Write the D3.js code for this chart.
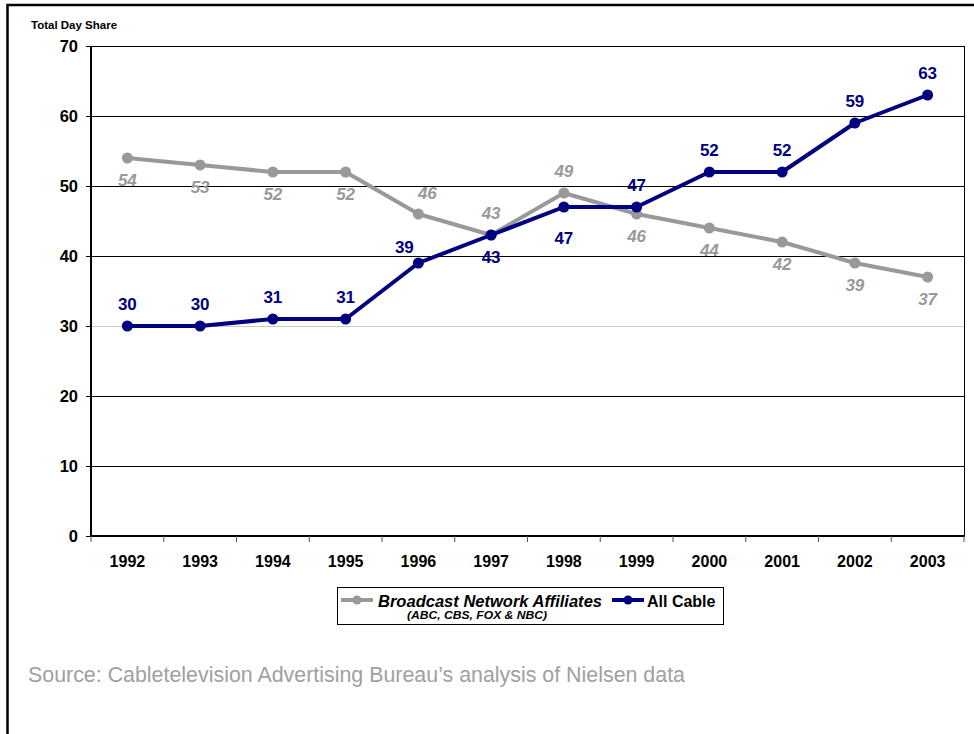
<!DOCTYPE html>
<html>
<head>
<meta charset="utf-8">
<script src="https://cdn.jsdelivr.net/npm/d3@7"></script>
<style>
  body { margin: 0; background: #fff; }
  svg { display: block; font-family: Arial, "Liberation Sans", sans-serif; }
</style>
</head>
<body>
<svg id="chart" width="974" height="734"></svg>
<script>
// data
var years = ["1992", "1993", "1994", "1995", "1996", "1997", "1998", "1999", "2000", "2001", "2002", "2003"];
var broadcast = [54, 53, 52, 52, 46, 43, 49, 46, 44, 42, 39, 37];
var cable = [30, 30, 31, 31, 39, 43, 47, 47, 52, 52, 59, 63];
var yTicks = [0, 10, 20, 30, 40, 50, 60, 70];
// where each data label sits relative to its point
var broadcastLabelPos = ["below", "below", "below", "below", "aboveRight", "above", "above", "below", "below", "below", "below", "below"];
var cableLabelPos = ["above", "above", "above", "above", "aboveLeft", "below", "belowFar", "above", "above", "above", "above", "above"];

var gray = "#999999", navy = "#000080";

var svg = d3.select("#chart"),
    plot = { left: 91, right: 964, top: 46, bottom: 536 };

var x = d3.scaleBand().domain(years).range([plot.left, plot.right]);
var y = d3.scaleLinear().domain([0, 70]).range([plot.bottom, plot.top]);

// outer frame (only left and top are visible)
svg.append("path")
    .attr("d", "M7.5,734 V5 H974")
    .attr("fill", "none")
    .attr("stroke", "#000")
    .attr("stroke-width", 2.5);

// y axis caption
svg.append("text")
    .attr("x", 31).attr("y", 29)
    .attr("font-size", 11.5).attr("font-weight", "bold")
    .text("Total Day Share");

// gridlines
svg.append("g").selectAll("line")
    .data(yTicks.filter(function (d) { return d > 0; }))
    .enter().append("line")
    .attr("x1", plot.left).attr("x2", plot.right)
    .attr("y1", function (d) { return y(d) + 0.5; })
    .attr("y2", function (d) { return y(d) + 0.5; })
    .attr("stroke", function (d) { return d == 30 ? "#c8c8c8" : "#000"; })
    .attr("stroke-width", 1);

// right edge of plot
svg.append("line")
    .attr("x1", plot.right + 0.5).attr("x2", plot.right + 0.5)
    .attr("y1", plot.top).attr("y2", plot.bottom)
    .attr("stroke", "#000");

// y axis
var axisY = svg.append("g")
    .attr("transform", "translate(" + plot.left + ",0)")
    .call(d3.axisLeft(y).tickValues(yTicks).tickSize(5).tickPadding(8));
axisY.select(".domain").attr("stroke-width", 2).attr("d", "M0," + plot.top + "V" + plot.bottom);
axisY.selectAll(".tick text")
    .attr("font-size", 16.5).attr("font-weight", "bold")
    .attr("font-family", "Arial, 'Liberation Sans', sans-serif").attr("fill", "#000");

// x axis: ticks on the band edges
var axisX = svg.append("g")
    .attr("transform", "translate(0," + plot.bottom + ")");
axisX.append("line")
    .attr("x1", plot.left - 1).attr("x2", plot.right + 1)
    .attr("stroke", "#000").attr("stroke-width", 2);
axisX.selectAll(".edge")
    .data(years.concat(["end"]))
    .enter().append("line")
    .attr("class", "edge")
    .attr("x1", function (d, i) { return plot.left + i * x.step(); })
    .attr("x2", function (d, i) { return plot.left + i * x.step(); })
    .attr("y1", 0).attr("y2", 6)
    .attr("stroke", "#555");
axisX.selectAll("text")
    .data(years)
    .enter().append("text")
    .attr("x", function (d) { return x(d) + x.bandwidth() / 2; })
    .attr("y", 31)
    .attr("text-anchor", "middle")
    .attr("font-size", 16).attr("font-weight", "bold")
    .text(function (d) { return d; });

function cx(i) { return x(years[i]) + x.bandwidth() / 2; }

var line = d3.line()
    .x(function (d, i) { return cx(i); })
    .y(function (d) { return y(d); });

var offsets = {
    above: [0, -16], below: [0, 28], belowFar: [0, 37],
    aboveRight: [9, -15], aboveLeft: [-14, -10]
};

function drawSeries(values, color, pos, italic) {
    var g = svg.append("g");
    g.append("path")
        .datum(values)
        .attr("d", line)
        .attr("fill", "none")
        .attr("stroke", color)
        .attr("stroke-width", 4)
        .attr("stroke-linejoin", "round");
    g.selectAll("circle")
        .data(values)
        .enter().append("circle")
        .attr("cx", function (d, i) { return cx(i); })
        .attr("cy", function (d) { return y(d); })
        .attr("r", 5.5)
        .attr("fill", color);
    g.selectAll("text")
        .data(values)
        .enter().append("text")
        .attr("x", function (d, i) { return cx(i) + offsets[pos[i]][0]; })
        .attr("y", function (d, i) { return y(d) + offsets[pos[i]][1]; })
        .attr("text-anchor", "middle")
        .attr("font-size", 17).attr("font-weight", "bold")
        .attr("font-style", italic ? "italic" : "normal")
        .attr("fill", color)
        .text(function (d) { return d; });
}

drawSeries(broadcast, gray, broadcastLabelPos, true);
drawSeries(cable, navy, cableLabelPos, false);

// legend
var legend = svg.append("g");
legend.append("rect")
    .attr("x", 337.5).attr("y", 587.5)
    .attr("width", 386).attr("height", 37)
    .attr("fill", "#fff").attr("stroke", "#000");

function legendKey(x0, color) {
    legend.append("line")
        .attr("x1", x0).attr("x2", x0 + 32)
        .attr("y1", 600).attr("y2", 600)
        .attr("stroke", color).attr("stroke-width", 4);
    legend.append("circle")
        .attr("cx", x0 + 16).attr("cy", 600).attr("r", 4.5)
        .attr("fill", color);
}
legendKey(341, gray);
legendKey(612, navy);

legend.append("text")
    .attr("x", 378).attr("y", 607)
    .attr("font-size", 16).attr("font-weight", "bold").attr("font-style", "italic")
    .attr("textLength", 224).attr("lengthAdjust", "spacingAndGlyphs")
    .text("Broadcast Network Affiliates");
legend.append("text")
    .attr("x", 407).attr("y", 619)
    .attr("font-size", 11.5).attr("font-weight", "bold").attr("font-style", "italic")
    .attr("textLength", 140).attr("lengthAdjust", "spacingAndGlyphs")
    .text("(ABC, CBS, FOX & NBC)");
legend.append("text")
    .attr("x", 647).attr("y", 607)
    .attr("font-size", 16).attr("font-weight", "bold")
    .text("All Cable");

// source note
svg.append("text")
    .attr("x", 28).attr("y", 682)
    .attr("font-size", 21.5)
    .attr("fill", "#a0a0a0")
    .attr("textLength", 657).attr("lengthAdjust", "spacingAndGlyphs")
    .text("Source: Cabletelevision Advertising Bureau\u2019s analysis of Nielsen data");
</script>
</body>
</html>
